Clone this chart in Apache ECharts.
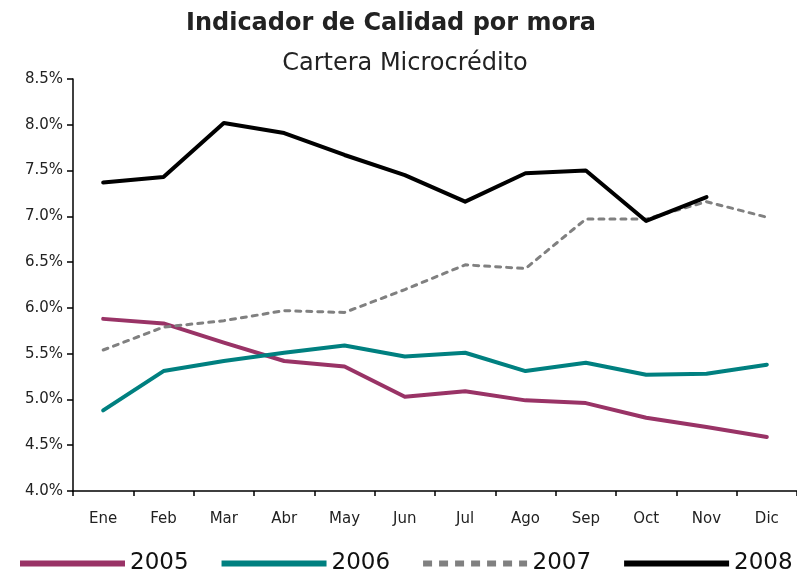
<!DOCTYPE html>
<html>
<head>
<meta charset="utf-8">
<script src="https://cdn.jsdelivr.net/npm/echarts@6/dist/echarts.min.js"></script>
<style>
  html, body { margin: 0; padding: 0; background: #fff; }
  #chart { width: 797px; height: 578px; }
</style>
</head>
<body>
<div id="chart"></div>
<script>
var months = ["Ene", "Feb", "Mar", "Abr", "May", "Jun", "Jul", "Ago", "Sep", "Oct", "Nov", "Dic"];
var data2005 = [5.88, 5.83, 5.62, 5.42, 5.36, 5.03, 5.09, 4.99, 4.96, 4.80, 4.70, 4.59];
var data2006 = [4.88, 5.31, 5.42, 5.51, 5.59, 5.47, 5.51, 5.31, 5.40, 5.27, 5.28, 5.38];
var data2007 = [5.54, 5.79, 5.86, 5.97, 5.95, 6.20, 6.47, 6.43, 6.97, 6.97, 7.16, 6.99];
var data2008 = [7.37, 7.43, 8.02, 7.91, 7.67, 7.45, 7.16, 7.47, 7.50, 6.95, 7.21, null];

var chart = echarts.init(document.getElementById("chart"));

var font = "'DejaVu Sans', Verdana, sans-serif";

// dashed legend icon (104 x 6)
var dashIcon = "path://M0,0h9v6h-9z M16,0h9v6h-9z M32,0h9v6h-9z M48,0h9v6h-9z M64,0h9v6h-9z M80,0h9v6h-9z M96,0h8v6h-8z";

function lineSeries(name, values, color, width, type) {
  return {
    name: name,
    type: "line",
    data: values,
    symbol: "none",
    connectNulls: false,
    lineStyle: { color: color, width: width, type: type || "solid", cap: "round", join: "round" },
    itemStyle: { color: color }
  };
}

var option = {
  backgroundColor: "#fff",
  animation: false,
  title: [
    {
      text: "Indicador de Calidad por mora",
      left: 386,
      top: 7,
      textAlign: "center",
      textStyle: { fontFamily: font, fontSize: 24, fontWeight: "bold", color: "#222" }
    },
    {
      text: "Cartera Microcrédito",
      left: 400,
      top: 47,
      textAlign: "center",
      textStyle: { fontFamily: font, fontSize: 24, fontWeight: "normal", color: "#222" }
    }
  ],
  legend: {
    left: 20,
    bottom: 3,
    width: 790,
    padding: 0,
    itemWidth: 105,
    itemHeight: 6,
    itemGap: 33,
    textStyle: { fontFamily: font, fontSize: 23, color: "#111" },
    data: [
      { name: "2005", icon: "rect" },
      { name: "2006", icon: "rect" },
      { name: "2007", icon: dashIcon },
      { name: "2008", icon: "rect" }
    ]
  },
  grid: {
    left: 73,
    right: -1,
    top: 79,
    bottom: 87,
    containLabel: false
  },
  xAxis: {
    type: "category",
    data: months,
    boundaryGap: true,
    axisLine: { lineStyle: { color: "#000", width: 1.5 } },
    axisTick: { show: true, length: 5, lineStyle: { color: "#000", width: 1.5 } },
    axisLabel: { fontFamily: font, fontSize: 15, color: "#222", margin: 21 },
    splitLine: { show: false }
  },
  yAxis: {
    type: "value",
    min: 4,
    max: 8.5,
    interval: 0.5,
    axisLine: { show: true, lineStyle: { color: "#000", width: 1.5 } },
    axisTick: { show: true, length: 6, lineStyle: { color: "#000", width: 1.5 } },
    axisLabel: {
      fontFamily: font,
      fontSize: 15,
      color: "#222",
      margin: 10,
      formatter: function(v) {
        return v.toFixed(1) + "%";
      }
    },
    splitLine: { show: false }
  },
  series: [
    lineSeries("2005", data2005, "#993366", 4),
    lineSeries("2006", data2006, "#008080", 4),
    lineSeries("2007", data2007, "#808080", 3, [5, 6]),
    lineSeries("2008", data2008, "#000000", 4)
  ]
};

chart.setOption(option);
</script>
</body>
</html>
